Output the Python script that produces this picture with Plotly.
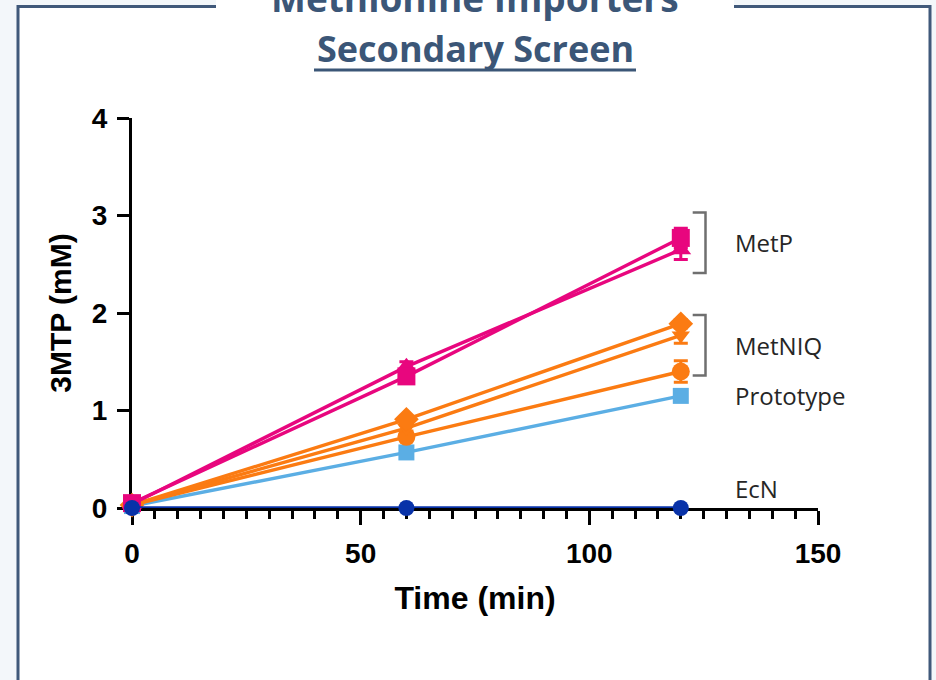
import plotly.graph_objects as go

# ---------------- data ----------------
time_min = [0, 60, 120]

metp_square = [0.05, 1.35, 2.77]
metp_square_err = [0.0, 0.05, 0.10]
metp_triangle = [0.04, 1.45, 2.65]
metp_triangle_err = [0.0, 0.05, 0.10]

metniq_diamond = [0.03, 0.91, 1.89]
metniq_diamond_err = [0.0, 0.03, 0.04]
metniq_tridown = [0.03, 0.82, 1.77]
metniq_tridown_err = [0.0, 0.03, 0.08]
metniq_circle = [0.03, 0.73, 1.40]
metniq_circle_err = [0.0, 0.04, 0.11]

prototype = [0.02, 0.57, 1.15]
prototype_err = [0.0, 0.02, 0.03]

ecn = [0.0, 0.0, 0.0]

group_labels = ["MetP", "MetNIQ", "Prototype", "EcN"]
label_y = [2.72, 1.67, 1.15, 0.2]
bracket_spans = [(2.41, 3.03), (1.36, 1.98)]

x_ticks = [0, 50, 100, 150]
y_ticks = [0, 1, 2, 3, 4]

# ---------------- styling ----------------
W, H = 936, 680
ML, MR, MT, MB = 132, 118, 118, 172
PINK = "#e8067e"
ORANGE = "#fb7b12"
LBLUE = "#5baee4"
DBLUE = "#0832a8"
FRAME = "#40597a"
TITLE_C = "#3b5677"
OUTER = "#f3f7fa"


def px_x(px):
    return (px - ML) / (W - ML - MR)


def px_y(py):
    return 1 - (py - MT) / (H - MT - MB)


fig = go.Figure()


def add_series(y, err, color, symbol, size, name):
    fig.add_trace(go.Scatter(
        x=time_min, y=y, mode="lines+markers", name=name,
        line=dict(color=color, width=3.4),
        marker=dict(symbol=symbol, size=size, color=color,
                    line=dict(width=0)),
        error_y=dict(type="data", array=err, visible=err is not None,
                     color=color, thickness=3, width=7),
        cliponaxis=False, showlegend=False,
    ))


add_series(prototype, prototype_err, LBLUE, "square", 16, "Prototype")
add_series(metniq_circle, metniq_circle_err, ORANGE, "circle", 18, "MetNIQ circle")
add_series(metniq_tridown, metniq_tridown_err, ORANGE, "triangle-down", 16, "MetNIQ tri")
add_series(metniq_diamond, metniq_diamond_err, ORANGE, "diamond", 19, "MetNIQ diamond")
add_series(metp_triangle, metp_triangle_err, PINK, "triangle-up", 18, "MetP tri")
add_series(metp_square, metp_square_err, PINK, "square", 18, "MetP square")
add_series(ecn, None, DBLUE, "circle", 16, "EcN")

# brackets
for lo, hi in bracket_spans:
    fig.add_trace(go.Scatter(
        x=[122.6, 125.4, 125.4, 122.6], y=[hi, hi, lo, lo],
        mode="lines", line=dict(color="#6f6f6f", width=2.5),
        cliponaxis=False, showlegend=False, hoverinfo="skip",
    ))

for txt, yv in zip(group_labels, label_y):
    fig.add_annotation(
        x=131.5, y=yv, xref="x", yref="y", text=txt, showarrow=False,
        xanchor="left", yanchor="middle",
        font=dict(family="Open Sans, Noto Sans, sans-serif", size=24, color="#262626"),
    )

# frame and title
shapes = [
    dict(type="rect", xref="paper", yref="paper",
         x0=px_x(18), x1=px_x(930), y0=px_y(720), y1=px_y(6.5),
         line=dict(color=FRAME, width=3), fillcolor="white", layer="below"),
    dict(type="rect", xref="paper", yref="paper",
         x0=px_x(216), x1=px_x(734), y0=px_y(30), y1=px_y(-5),
         line=dict(width=0), fillcolor="white", layer="below"),
    dict(type="line", xref="paper", yref="paper",
         x0=px_x(314), x1=px_x(636), y0=px_y(70), y1=px_y(70),
         line=dict(color=TITLE_C, width=3)),
]
fig.update_layout(shapes=shapes)

fig.add_annotation(
    x=px_x(475), y=px_y(-3), xref="paper", yref="paper",
    text="<b>Methionine Importers</b>", showarrow=False,
    xanchor="center", yanchor="middle",
    font=dict(family="Open Sans, Noto Sans, sans-serif", size=37, color=TITLE_C),
)
fig.add_annotation(
    x=px_x(475), y=px_y(49), xref="paper", yref="paper",
    text="<b>Secondary Screen</b>", showarrow=False,
    xanchor="center", yanchor="middle",
    font=dict(family="Open Sans, Noto Sans, sans-serif", size=36, color=TITLE_C),
)

axis_font = dict(family="Liberation Sans, Arial, sans-serif", size=28, color="black", weight="bold")

fig.update_xaxes(
    range=[0, 150], tickvals=x_ticks, showgrid=False, zeroline=False,
    showline=True, linecolor="black", linewidth=3, layer="below traces",
    ticks="outside", ticklen=14, tickwidth=3, tickcolor="black",
    minor=dict(dtick=5, tick0=0, ticks="outside", ticklen=8, tickwidth=3,
               tickcolor="black", showgrid=False),
    tickfont=axis_font, ticklabelstandoff=4,
    title=dict(text="<b>Time (min)</b>", standoff=20,
               font=dict(family="Liberation Sans, Arial, sans-serif", size=32, color="black")),
)
fig.update_yaxes(
    range=[0, 4], tickvals=y_ticks, showgrid=False, zeroline=False,
    showline=True, linecolor="black", linewidth=3, layer="below traces",
    ticks="outside", ticklen=12, tickwidth=3, tickcolor="black",
    tickfont=axis_font, ticklabelstandoff=4,
    title=dict(text="<b>3MTP (mM)</b>", standoff=12,
               font=dict(family="Liberation Sans, Arial, sans-serif", size=30, color="black")),
)

fig.update_layout(
    width=W, height=H,
    margin=dict(l=ML, r=MR, t=MT, b=MB, autoexpand=False),
    paper_bgcolor=OUTER, plot_bgcolor="rgba(0,0,0,0)",
    showlegend=False,
)

fig.write_html(
    "out.html",
    config={"displayModeBar": False},
    post_script="document.body.style.margin='0';document.body.style.overflow='hidden';"
                "document.body.style.background='" + OUTER + "';",
)
